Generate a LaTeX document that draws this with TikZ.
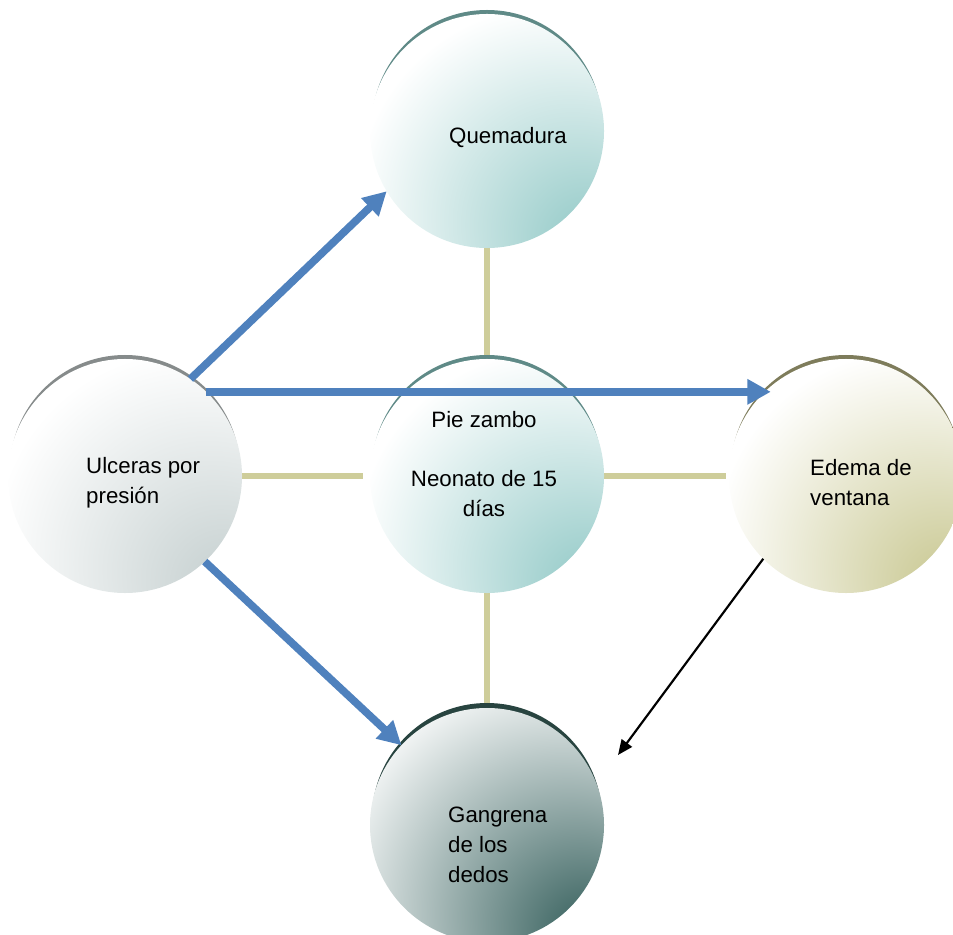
\documentclass[tikz,border=0pt]{standalone}
\usepackage{fontspec}
\setmainfont{Liberation Sans}
\usetikzlibrary{arrows.meta,backgrounds}

\definecolor{quemfill}{HTML}{A2D1CF}
\definecolor{quemrim}{HTML}{5F8A87}
\definecolor{ulcfill}{HTML}{CDD6D6}
\definecolor{ulcrim}{HTML}{868B8B}
\definecolor{edefill}{HTML}{D0CFA0}
\definecolor{ederim}{HTML}{7E7C5B}
\definecolor{ganfill}{HTML}{3F6764}
\definecolor{ganrim}{HTML}{284440}
\definecolor{linkgold}{HTML}{CECD9A}
\definecolor{arrowblue}{HTML}{4F81BD}

\pgfdeclareradialshading{quemshade}{\pgfpoint{24bp}{-26bp}}{color(0bp)=(quemfill); color(8bp)=(quemfill); color(42bp)=(white); color(100bp)=(white)}
\pgfdeclareradialshading{ulcshade}{\pgfpoint{24bp}{-26bp}}{color(0bp)=(ulcfill); color(8bp)=(ulcfill); color(42bp)=(white); color(100bp)=(white)}
\pgfdeclareradialshading{edeshade}{\pgfpoint{24bp}{-26bp}}{color(0bp)=(edefill); color(8bp)=(edefill); color(42bp)=(white); color(100bp)=(white)}
\pgfdeclareradialshading{ganshade}{\pgfpoint{24bp}{-26bp}}{color(0bp)=(ganfill); color(5bp)=(ganfill); color(48bp)=(white); color(100bp)=(white)}

\begin{document}
\begin{tikzpicture}[
    x=0.03cm, y=-0.03cm,
    bubble/.style={circle, minimum size=7.02cm, inner sep=0pt, outer sep=0pt},
    rim/.style={circle, minimum size=6.9cm, inner sep=0pt, outer sep=0pt, fill=#1},
    txt/.style={font=\fontsize{19pt}{25.6pt}\selectfont, inner sep=0pt},
    link/.style={draw=linkgold, line width=0.18cm},
    bigarrow/.style={draw=arrowblue, line width=0.23cm, -{Triangle[length=0.7cm, width=0.72cm]}},
    thinarrow/.style={draw=black, line width=0.065cm, -{Triangle[length=0.45cm, width=0.38cm]}}
  ]
    \useasboundingbox (0,0) rectangle (953,935);

    \node[rim=quemrim] (q-rim) at (487,125) {};
    \node[bubble, shade, shading=quemshade] (q) at (487,131) {};
    \node[rim=quemrim] (c-rim) at (487,470) {};
    \node[bubble, shade, shading=quemshade] (c) at (487,476) {};
    \node[rim=ulcrim] (u-rim) at (125,470) {};
    \node[bubble, shade, shading=ulcshade] (u) at (125,476) {};
    \node[rim=ederim] (e-rim) at (846,470) {};
    \node[bubble, shade, shading=edeshade] (e) at (846,476) {};
    \node[rim=ganrim] (g-rim) at (487,818) {};
    \node[bubble, shade, shading=ganshade] (g) at (487,825) {};

    \node[txt] (q-txt) at (508,138) {Quemadura};
    \node[txt, align=left, anchor=west] (u-txt) at (86,483) {Ulceras por\\presión};
    \node[txt, align=center] (c-txt) at (484,464) {Pie zambo\\[24pt]Neonato de 15\\días};
    \node[txt, align=left, anchor=west] (e-txt) at (810,483) {Edema de\\ventana};
    \node[txt, align=left, anchor=west] (g-txt) at (448,845) {Gangrena\\de los\\dedos};

    \begin{scope}[on background layer]
      \draw[link] (q) -- (c);
      \draw[link, shorten >=0.2cm] (u) -- (c);
      \draw[link, shorten >=0.1cm] (c) -- (e);
      \draw[link] (c) -- (g);
    \end{scope}

    \draw[bigarrow] (u.56) -- (q.211);
    \draw[bigarrow] (u.46) -- (u.46 -| e.130);
    \draw[bigarrow] (u.-47) -- (g.137);
    \coordinate (g-tip) at (618,755);
    \draw[thinarrow] (e.225) -- (g-tip);
  \end{tikzpicture}
\end{document}
